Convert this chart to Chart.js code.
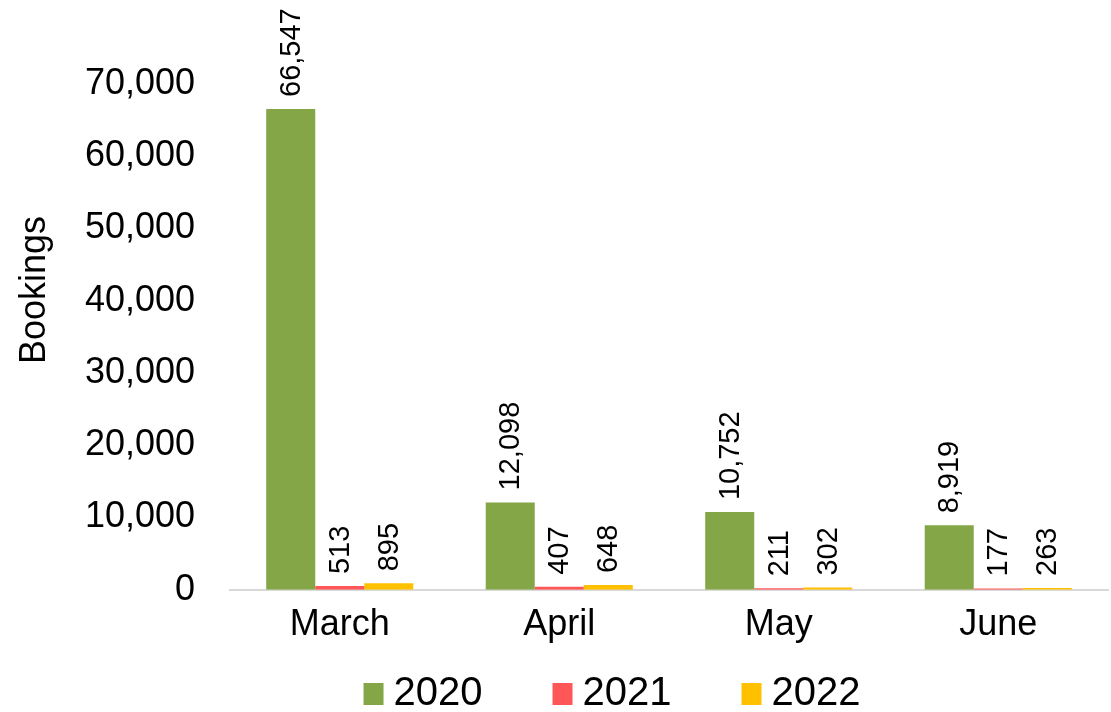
<!DOCTYPE html>
<html>
<head>
<meta charset="utf-8">
<script src="https://cdn.jsdelivr.net/npm/chart.js@4"></script>
<style>
html,body{margin:0;padding:0;background:#fff;}
#wrap{width:1111px;height:712px;position:relative;}
</style>
</head>
<body>
<div id="wrap"><canvas id="c"></canvas></div>
<script>
const months = ['March', 'April', 'May', 'June'];
const years = ['2020', '2021', '2022'];
const bookings2020 = [66547, 12098, 10752, 8919];
const bookings2021 = [513, 407, 211, 177];
const bookings2022 = [895, 648, 302, 263];
const yTicks = [0, 10000, 20000, 30000, 40000, 50000, 60000, 70000];
const yTitle = 'Bookings';
const colors = ['#84A646', '#FF5757', '#FFC000'];

const FONT = "'Liberation Sans', Arial, sans-serif";

const labelPlugin = {
  id: 'barLabels',
  afterDatasetsDraw(chart) {
    const ctx = chart.ctx;
    ctx.save();
    ctx.font = '29px ' + FONT;
    ctx.fillStyle = '#000';
    ctx.textAlign = 'left';
    ctx.textBaseline = 'middle';
    chart.data.datasets.forEach((ds, i) => {
      const meta = chart.getDatasetMeta(i);
      meta.data.forEach((bar, j) => {
        const v = ds.data[j];
        ctx.save();
        ctx.translate(bar.x, bar.y - 12);
        ctx.rotate(-Math.PI / 2);
        ctx.fillText(v.toLocaleString('en-US'), 0, 1);
        ctx.restore();
      });
    });
    ctx.restore();
  }
};

const extrasPlugin = {
  id: 'extras',
  afterDraw(chart) {
    const ctx = chart.ctx;
    // axis title
    ctx.save();
    ctx.font = '36px ' + FONT;
    ctx.fillStyle = '#000';
    ctx.textAlign = 'center';
    ctx.textBaseline = 'middle';
    ctx.translate(35, 290);
    ctx.rotate(-Math.PI / 2);
    ctx.fillText(yTitle, 0, 0);
    ctx.restore();

    // legend
    ctx.save();
    ctx.font = '40px ' + FONT;
    ctx.textBaseline = 'alphabetic';
    ctx.textAlign = 'left';
    const box = 20, boxH = 22, gap = 10, spacing = 70;
    const items = chart.data.datasets.map(ds => ({ text: ds.label, color: ds.backgroundColor, w: ctx.measureText(ds.label).width }));
    let total = 0;
    items.forEach((it, k) => { total += box + gap + it.w + (k < items.length - 1 ? spacing : 0); });
    let x = 612 - total / 2;
    const baseY = 705;
    items.forEach(it => {
      ctx.fillStyle = it.color;
      ctx.fillRect(x, baseY - boxH, box, boxH);
      ctx.fillStyle = '#000';
      ctx.fillText(it.text, x + box + gap, baseY);
      x += box + gap + it.w + spacing;
    });
    ctx.restore();
  }
};

new Chart(document.getElementById('c'), {
  type: 'bar',
  data: {
    labels: months,
    datasets: [
      { label: years[0], data: bookings2020, backgroundColor: colors[0] },
      { label: years[1], data: bookings2021, backgroundColor: colors[1] },
      { label: years[2], data: bookings2022, backgroundColor: colors[2] }
    ]
  },
  options: {
    responsive: true,
    maintainAspectRatio: false,
    animation: false,
    devicePixelRatio: 1,
    layout: { padding: { top: 84, right: 3, left: 0, bottom: 51 } },
    datasets: { bar: { barPercentage: 1.0, categoryPercentage: 0.67 } },
    plugins: {
      legend: { display: false },
      tooltip: { enabled: false }
    },
    scales: {
      x: {
        grid: { display: false, drawTicks: false },
        border: { display: true, color: '#D9D9D9', width: 2 },
        ticks: { font: { family: FONT, size: 36 }, color: '#000', padding: 14 }
      },
      y: {
        min: 0,
        max: 70000,
        afterBuildTicks(scale) { scale.ticks = yTicks.map(v => ({ value: v })); },
        afterFit(scale) { scale.width = 230; },
        grid: { display: false, drawTicks: false },
        border: { display: false },
        ticks: {
          font: { family: FONT, size: 36 },
          color: '#000',
          padding: 35,
          callback: v => v.toLocaleString('en-US')
        },
        title: { display: false }
      }
    }
  },
  plugins: [labelPlugin, extrasPlugin]
});
</script>
</body>
</html>
